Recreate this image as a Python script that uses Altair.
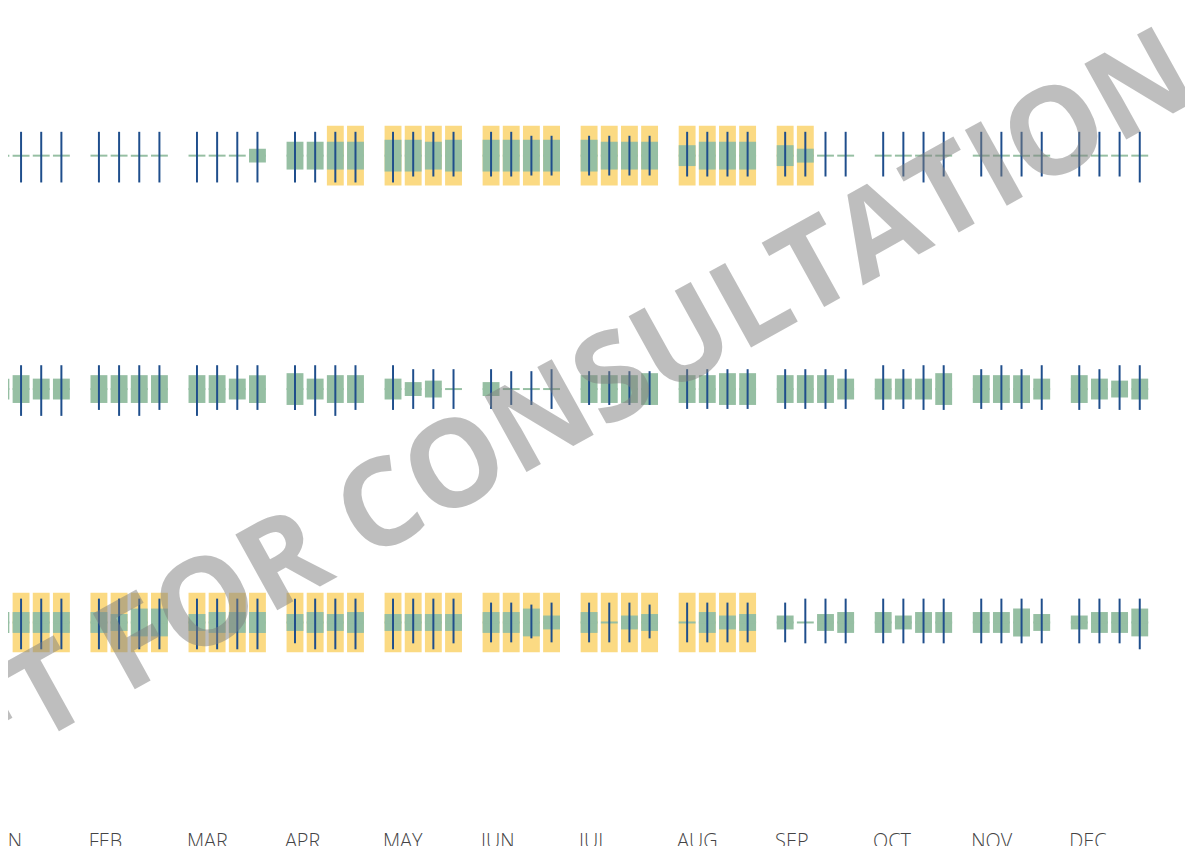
import altair as alt
import pandas as pd

months = ["JAN", "FEB", "MAR", "APR", "MAY", "JUN", "JUL", "AUG", "SEP", "OCT", "NOV", "DEC"]
weeks = ["W1", "W2", "W3", "W4"]
WATERMARK = "DRAFT FOR CONSULTATION"

# Row 1 -------------------------------------------------------------
top_1 = [24]*4 + [24]*4 + [24]*4 + [24]*4 + [24]*4 + [24, 24, 20, 20] + [20]*4 + [24]*4 + [24]*4 + [24]*4 + [24]*4 + [24]*4
bot_1 = [27]*4 + [27]*4 + [27]*4 + [27]*4 + [27, 21, 21, 21] + [21, 21, 20, 20] + [20]*4 + [21]*4 + [21]*4 + [21, 21, 27, 21] + [21]*4 + [21, 21, 21, 27]
half_1 = [0]*4 + [0]*4 + [0, 0, 0, 7] + [14]*4 + [16, 16, 14, 16] + [16]*4 + [16, 14, 14, 14] + [10.5, 14, 14, 14] + [10.5, 7, 0, 0] + [0]*4 + [0]*4 + [0]*4
flag_1 = [0]*4 + [0]*4 + [0]*4 + [0, 0, 1, 1] + [1]*4 + [1]*4 + [1]*4 + [1]*4 + [1, 1, 0, 0] + [0]*4 + [0]*4 + [0]*4

# Row 2 -------------------------------------------------------------
top_2 = [24]*4 + [24]*4 + [24]*4 + [24]*4 + [24, 20, 20, 20] + [20, 18, 18, 20] + [18]*4 + [20]*4 + [20]*4 + [24, 20, 24, 24] + [20, 24, 20, 24] + [24, 20, 24, 24]
bot_2 = [27]*4 + [21, 27, 27, 21] + [27, 21, 21, 21] + [21, 27, 27, 21] + [21, 20, 20, 20] + [20, 16, 16, 20] + [16]*4 + [20]*4 + [20]*4 + [21, 20, 21, 21] + [20, 21, 20, 21] + [21, 20, 21, 21]
half_2 = [10.5, 14, 10.5, 10.5] + [14]*4 + [14, 14, 10.5, 14] + [16, 10.5, 14, 14] + [10.5, 7, 8.5, 0] + [7, 0, 0, 0] + [14, 14, 14, 16] + [14, 14, 16, 16] + [14, 14, 14, 10.5] + [10.5, 10.5, 10.5, 16] + [14, 14, 14, 10.5] + [14, 10.5, 8.5, 10.5]
flag_2 = [0]*48

# Row 3 -------------------------------------------------------------
top_3 = [24]*4 + [24]*4 + [24]*4 + [24]*4 + [24]*4 + [20, 20, 18, 20] + [20, 20, 20, 18] + [20]*4 + [20, 24, 24, 24] + [24]*4 + [24]*4 + [24]*4
bot_3 = [27]*4 + [27]*4 + [27]*4 + [21, 27, 27, 27] + [27, 21, 27, 21] + [20, 20, 16, 20] + [20, 20, 20, 16] + [20]*4 + [20, 21, 21, 21] + [21]*4 + [21]*4 + [21, 21, 21, 27]
half_3 = [10.5]*4 + [10.5, 8.5, 14, 14] + [8.5, 10.5, 10.5, 10.5] + [8.5, 10.5, 8.5, 10.5] + [8.5]*4 + [10.5, 10.5, 14, 7] + [10.5, 0, 7, 8.5] + [0, 10.5, 7, 8.5] + [7, 0, 8.5, 10.5] + [10.5, 7, 10.5, 10.5] + [10.5, 10.5, 14, 8.5] + [7, 10.5, 10.5, 14]
flag_3 = [0, 1, 1, 1] + [1]*4 + [1]*4 + [1]*4 + [1]*4 + [1]*4 + [1]*4 + [1]*4 + [0]*4 + [0]*4 + [0]*4 + [0]*4

ROW_STEP = 235
YELLOW_HALF = 30

records = []
for r, (tops, bots, halves, flags) in enumerate([
    (top_1, bot_1, half_1, flag_1),
    (top_2, bot_2, half_2, flag_2),
    (top_3, bot_3, half_3, flag_3),
]):
    for i in range(48):
        records.append({
            "row": r,
            "month": months[i // 4],
            "week": weeks[i % 4],
            "top": tops[i],
            "bot": bots[i],
            "half": halves[i],
            "flag": flags[i],
        })
df = pd.DataFrame(records)

BLUE = "#1F4E8C"
GREEN = "#96BFA3"
YELLOW = "#FBDA83"

x_scale = alt.Scale(domain=months, range=[-17.3, 1149.6], paddingInner=0.1773, paddingOuter=0)
x_plain = alt.X("month:N", sort=months, scale=x_scale, axis=None)
xo = alt.XOffset("week:N", scale=alt.Scale(domain=weeks, paddingInner=0.163, paddingOuter=0.0815))
y_scale = alt.Scale(domain=[-692.2, 145.8], nice=False, zero=False)

base = alt.Chart(df).transform_calculate(
    c=f"-datum.row * {ROW_STEP}"
).transform_calculate(
    b1="datum.c + datum.top",
    b2="datum.c - datum.bot",
    g1="datum.c + datum.half",
    g2="datum.c - datum.half",
    yy1=f"datum.c + {YELLOW_HALF}",
    yy2=f"datum.c - {YELLOW_HALF}",
)

yellow = base.transform_filter("datum.flag == 1").mark_bar(color=YELLOW).encode(
    x=x_plain, xOffset=xo,
    y=alt.Y("yy1:Q", scale=y_scale, axis=None), y2="yy2:Q",
)
green = base.mark_bar(color=GREEN).encode(
    x=x_plain, xOffset=xo,
    y=alt.Y("g1:Q", scale=y_scale, axis=None), y2="g2:Q",
)
tick = base.mark_tick(color=GREEN, orient="horizontal", size=17, thickness=2, opacity=1).encode(
    x=x_plain, xOffset=xo,
    y=alt.Y("c:Q", scale=y_scale, axis=None),
)
blue = base.mark_rule(color=BLUE, strokeWidth=2).encode(
    x=x_plain, xOffset=xo,
    y=alt.Y("b1:Q", scale=y_scale, axis=None), y2="b2:Q",
)
labels = alt.Chart(pd.DataFrame({"month": months})).mark_text(
    align="left", baseline="alphabetic", font="Open Sans", fontSize=20,
    fontWeight=300, color="#444444",
).encode(
    x=alt.X("month:N", sort=months, scale=x_scale, axis=None, bandPosition=0),
    y=alt.value(843),
    text="month:N",
)
wm = alt.Chart(pd.DataFrame({"t": [WATERMARK]})).mark_text(
    angle=331, fontSize=122, font="Open Sans", fontWeight="bold",
    color="#7f7f7f", opacity=0.5, align="center", baseline="middle",
).encode(x=alt.value(457), y=alt.value(458), text="t:N")

chart = alt.layer(yellow, green, tick, blue, labels, wm).properties(
    width=1185, height=838,
    autosize=alt.AutoSizeParams(type="none"),
    padding=0,
).configure_view(stroke=None)

chart.save("out.html", embed_options={"renderer": "svg", "actions": False})
